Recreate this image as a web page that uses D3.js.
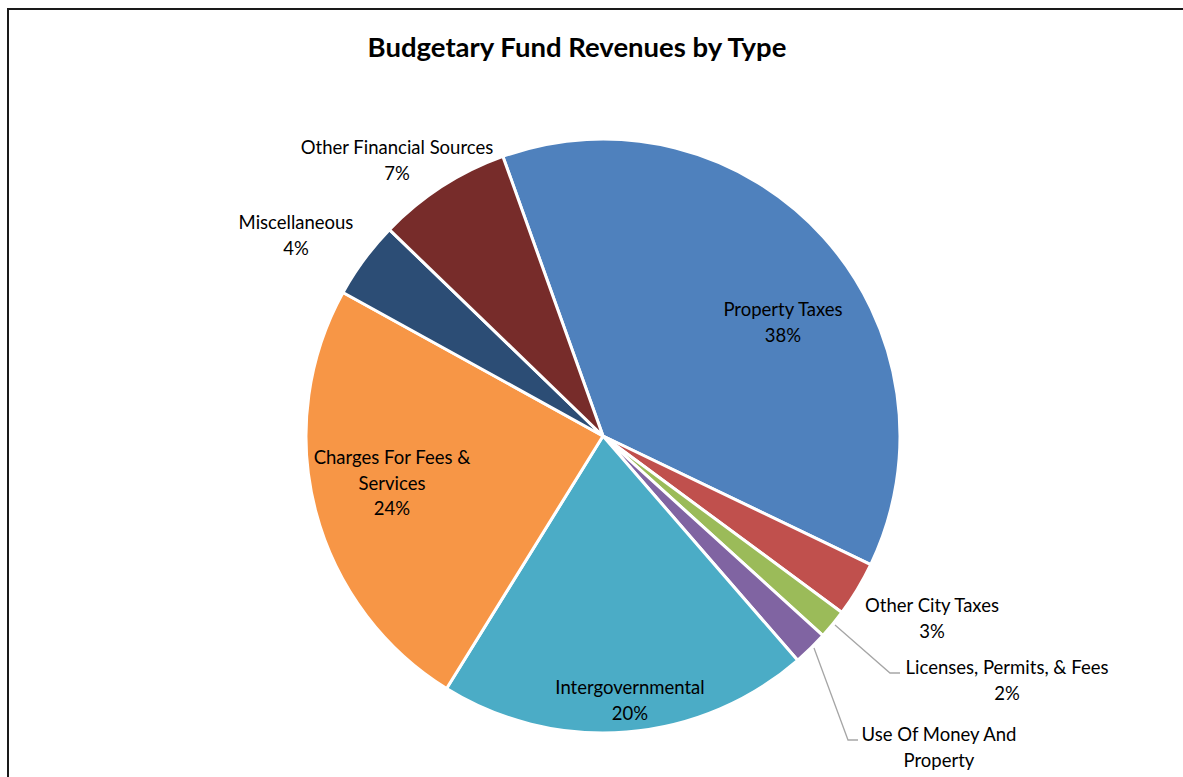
<!DOCTYPE html>
<html>
<head>
<meta charset="utf-8">
<script src="https://cdn.jsdelivr.net/npm/d3@7"></script>
<style>
  html, body { margin: 0; padding: 0; background: #fff; }
  svg { display: block; }
  text { font-family: Lato, "Open Sans", sans-serif; fill: #000; }
</style>
</head>
<body>
<svg id="chart" width="1183" height="777"></svg>
<script>
// Revenue categories, in clockwise order starting from the top
const categories = [
  "Property Taxes",
  "Other City Taxes",
  "Licenses, Permits, & Fees",
  "Use Of Money And Property",
  "Intergovernmental",
  "Charges For Fees & Services",
  "Miscellaneous",
  "Other Financial Sources"
];
// Share of budgetary fund revenues (percent)
const shares = [37.6, 3.0, 1.6, 1.9, 20.2, 24.2, 4.2, 7.3];
// Percent labels as printed
const percentLabels = ["38%", "3%", "2%", "2%", "20%", "24%", "4%", "7%"];
const colors = ["#4F81BD", "#C0504D", "#9BBB59", "#8064A2", "#4BACC6", "#F79646", "#2C4D75", "#772C2A"];

// Label layout: wrapped lines, centre point, optional leader line
const labelLayout = [
  { lines: ["Property Taxes"], x: 783, y: 310 },
  { lines: ["Other City Taxes"], x: 932, y: 606 },
  { lines: ["Licenses, Permits, & Fees"], x: 1007, y: 668, leader: [[835, 625], [890, 673], [900, 673]] },
  { lines: ["Use Of Money And", "Property"], x: 939, y: 735, leader: [[814, 648], [848, 740], [858, 740]] },
  { lines: ["Intergovernmental"], x: 630, y: 688 },
  { lines: ["Charges For Fees &", "Services"], x: 392, y: 458 },
  { lines: ["Miscellaneous"], x: 296, y: 223 },
  { lines: ["Other Financial Sources"], x: 397, y: 148 }
];

const svg = d3.select("#chart");
const W = 1183, H = 777;

// Chart frame
svg.append("rect")
  .attr("x", 8).attr("y", 9)
  .attr("width", W + 20).attr("height", H + 20)
  .attr("fill", "#fff")
  .attr("stroke", "#1a1a1a")
  .attr("stroke-width", 2);

// Title
svg.append("text")
  .attr("x", 577).attr("y", 57)
  .attr("text-anchor", "middle")
  .style("font-size", "27.5px")
  .style("font-weight", "bold")
  .text("Budgetary Fund Revenues by Type");

const cx = 603, cy = 436, radius = 297;
const startDeg = -19.7;

const data = categories.map((c, i) => ({ name: c, value: shares[i], pct: percentLabels[i], color: colors[i], layout: labelLayout[i] }));

const pie = d3.pie()
  .value(d => d.value)
  .sort(null)
  .startAngle(startDeg * Math.PI / 180)
  .endAngle((startDeg + 360) * Math.PI / 180);

const arc = d3.arc().innerRadius(0).outerRadius(radius);

const g = svg.append("g").attr("transform", `translate(${cx},${cy})`);

g.selectAll("path.slice")
  .data(pie(data))
  .join("path")
  .attr("class", "slice")
  .attr("d", arc)
  .attr("fill", d => d.data.color)
  .attr("stroke", "#fff")
  .attr("stroke-width", 3)
  .attr("stroke-linejoin", "round");

// Leader lines
const line = d3.line();
svg.selectAll("path.leader")
  .data(data.filter(d => d.layout.leader))
  .join("path")
  .attr("class", "leader")
  .attr("d", d => line(d.layout.leader))
  .attr("fill", "none")
  .attr("stroke", "#a6a6a6")
  .attr("stroke-width", 1.3);

// Data labels: category name then percentage
const lineH = 25.5;
const labels = svg.selectAll("g.label")
  .data(data)
  .join("g")
  .attr("class", "label");

labels.each(function(d) {
  const grp = d3.select(this);
  const rows = d.layout.lines.concat([d.pct]);
  rows.forEach((t, k) => {
    grp.append("text")
      .attr("x", d.layout.x)
      .attr("y", d.layout.y + k * lineH)
      .attr("dy", "0.35em")
      .attr("text-anchor", "middle")
      .style("font-size", "18.5px")
      .text(t);
  });
});
</script>
</body>
</html>
